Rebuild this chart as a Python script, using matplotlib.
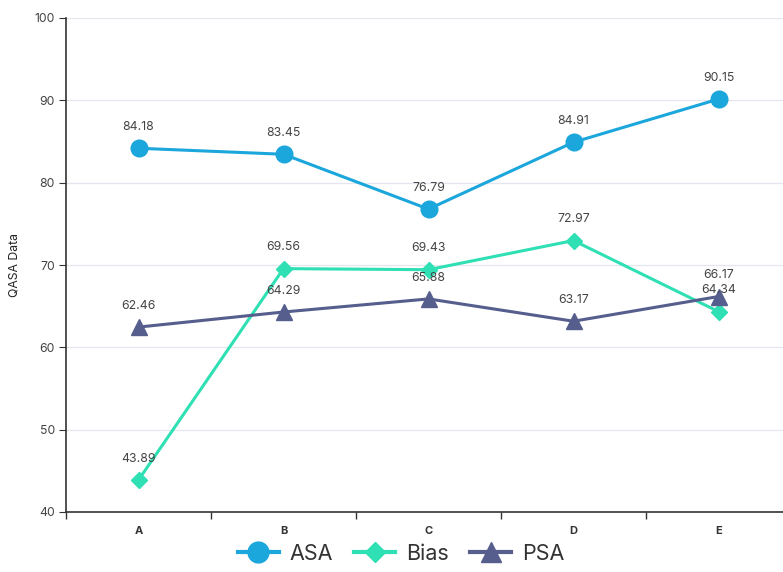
import matplotlib
matplotlib.use("Agg")
import matplotlib.pyplot as plt
from matplotlib.lines import Line2D

categories = ["A", "B", "C", "D", "E"]
asa = [84.18, 83.45, 76.79, 84.91, 90.15]
bias = [43.89, 69.56, 69.43, 72.97, 64.34]
psa = [62.46, 64.29, 65.88, 63.17, 66.17]

plt.rcParams['font.family'] = ['Inter', 'DejaVu Sans']

fig = plt.figure(figsize=(7.83, 5.72), dpi=100)
W, H = 783, 572
left, right, top, bottom = 66, 791, 18, 512
ax = fig.add_axes([left / W, (H - bottom) / H, (right - left) / W, (bottom - top) / H])

x = list(range(len(categories)))
c_asa, c_bias, c_psa = "#1ba6dc", "#2ee0b3", "#555e8c"
ax.plot(x, asa, color=c_asa, lw=2.2, marker="o", ms=12, zorder=3)
ax.plot(x, bias, color=c_bias, lw=2.2, marker="D", ms=8, zorder=3)
ax.plot(x, psa, color=c_psa, lw=2.2, marker="^", ms=11, zorder=3)

for series in (asa, bias, psa):
    for xi, v in zip(x, series):
        ax.annotate(f"{v:.2f}", (xi, v), xytext=(0, 11), textcoords="offset points",
                    ha="center", va="bottom", fontsize=8.8, color="#444444", zorder=4)

ax.set_xlim(-0.5, 4.5)
ax.set_ylim(40, 100)
ax.set_yticks([40, 50, 60, 70, 80, 90, 100])
ax.set_xticks(x)
ax.set_xticklabels(categories, fontsize=8, fontweight="bold", color="#333333")
ax.set_xticks([i + 0.5 for i in range(-1, 5)], minor=True)
ax.tick_params(axis="x", which="major", length=0, pad=10)
ax.tick_params(axis="x", which="minor", length=5, color="#333333", width=1)
ax.tick_params(axis="y", length=5, color="#333333", labelsize=8.8, labelcolor="#444444", pad=3)
ax.grid(axis="y", color="#e4e7ef", lw=0.9)
ax.set_axisbelow(True)
for s in ("top", "right"):
    ax.spines[s].set_visible(False)
for s in ("left", "bottom"):
    ax.spines[s].set_color("#333333")
    ax.spines[s].set_linewidth(1.2)
ax.set_ylabel("QASA Data", fontsize=8.8, color="#222222", labelpad=10)

handles = [
    Line2D([], [], color=c_asa, lw=3, marker="o", ms=15),
    Line2D([], [], color=c_bias, lw=3, marker="D", ms=10),
    Line2D([], [], color=c_psa, lw=3, marker="^", ms=15),
]
fig.legend(handles, ["ASA", "Bias", "PSA"], loc="center", bbox_to_anchor=(401 / W, 1 - 554 / H),
           ncol=3, frameon=False, fontsize=15.5, handlelength=1.9, columnspacing=1.0,
           handletextpad=0.5, labelcolor="#333333")

fig.savefig("out.png", dpi=100)
